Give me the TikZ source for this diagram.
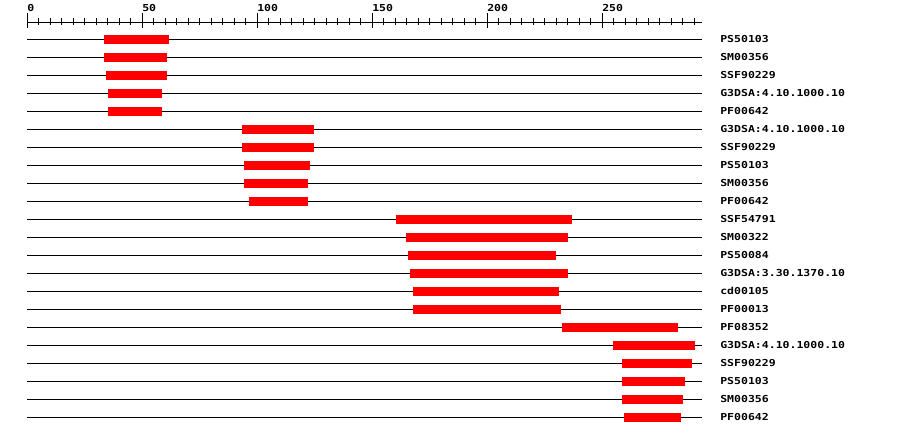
\documentclass[tikz,border=0pt]{standalone}
\usepackage{fontspec}
\newfontfamily\labfont[FakeStretch=1.2]{DejaVu Sans Mono}
\tikzset{
  trackline/.style={line width=0.75pt, black},
  hitbar/.style={fill=red, draw=none},
  lab/.style={anchor=west, inner sep=0pt, font=\labfont\bfseries\fontsize{7.2}{8}\selectfont},
  axlab/.style={anchor=west, inner sep=0pt, font=\labfont\bfseries\fontsize{7.2}{8}\selectfont},
  axline/.style={line width=0.75pt, black}
}
\begin{document}
\begin{tikzpicture}[x=0.75pt, y=-0.75pt]
\useasboundingbox (0,0) rectangle (900,436);
% axis
\draw[axline] (27,22) -- (702,22);
\foreach \t in {5,10,...,290} {
  \draw[axline] ({27+2.3*\t},18) -- ({27+2.3*\t},25);
}
\foreach \t in {0,50,...,250} {
  \draw[axline] ({27+2.3*\t},13) -- ({27+2.3*\t},28);
  \node[axlab] (ax\t) at ({27+2.3*\t},8) {\t};
}
% rows
\foreach \i/\a/\b/\l in {
  1/104/169/PS50103,
  2/104/167/SM00356,
  3/106/167/SSF90229,
  4/108/162/G3DSA:4.10.1000.10,
  5/108/162/PF00642,
  6/242/314/G3DSA:4.10.1000.10,
  7/242/314/SSF90229,
  8/244/310/PS50103,
  9/244/308/SM00356,
  10/249/308/PF00642,
  11/396/572/SSF54791,
  12/406/568/SM00322,
  13/408/556/PS50084,
  14/410/568/G3DSA:3.30.1370.10,
  15/413/559/cd00105,
  16/413/561/PF00013,
  17/562/678/PF08352,
  18/613/695/G3DSA:4.10.1000.10,
  19/622/692/SSF90229,
  20/622/685/PS50103,
  21/622/683/SM00356,
  22/624/681/PF00642} {
  \pgfmathsetmacro\yy{39+18*(\i-1)}
  \draw[trackline] (27,\yy) -- (702,\yy);
  \fill[hitbar] (\a,\yy-4.5) rectangle (\b,\yy+4.5);
  \node[lab] (l\i) at (720,\yy) {\l};
}
\end{tikzpicture}
\end{document}
